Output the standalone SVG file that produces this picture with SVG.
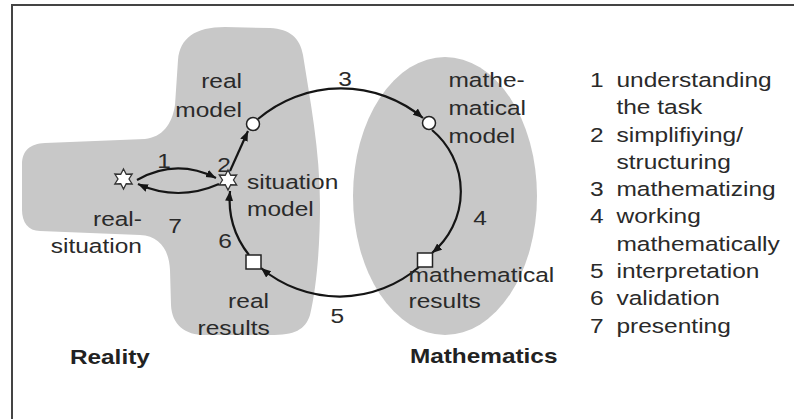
<svg xmlns="http://www.w3.org/2000/svg" width="794" height="419" viewBox="0 0 794 419">
<style>
.t{font-family:"Liberation Sans",Arial,sans-serif;font-size:19.3px;fill:#2a2a2a}
.b{font-family:"Liberation Sans",Arial,sans-serif;font-size:21px;font-weight:bold;fill:#222}
.e{text-anchor:end}
.m{text-anchor:middle}
.region{fill:#c8c8c8;stroke:none}
.conn{fill:none;stroke:#151515;stroke-width:2.2}
.node{fill:#fff;stroke:#222;stroke-width:1.5}
.star{fill:#fff;stroke:#333;stroke-width:1.3}
</style>
<defs>
<marker id="ah" markerUnits="userSpaceOnUse" markerWidth="11" markerHeight="9" refX="10" refY="4" orient="auto">
<path d="M0,0 L10,4 L0,8 z" fill="#151515"/>
</marker>
<polygon id="starshape" points="0,-10 2.75,-4.76 8.66,-5 5.5,0 8.66,5 2.75,4.76 0,10 -2.75,4.76 -8.66,5 -5.5,0 -8.66,-5 -2.75,-4.76"/>
</defs>
<rect x="0" y="0" width="794" height="419" fill="#fff"/>
<path d="M12,419 L12,5 L794,5" fill="none" stroke="#444" stroke-width="2"/>

<g id="reality">
<path class="region" d="M22,165 C22,150 30,144 45,143 L145,139 C162,137 172,125 175,105 L178,60 C180,38 195,27 225,27 L270,28 C290,29 300,38 303,55 C310,100 320,150 320,205 C320,250 316,290 310,315 C305,330 295,335 270,335 L205,335 C185,335 172,325 171,305 L170,270 C169,250 160,236 140,235 L40,231 C28,231 22,222 22,210 Z"/>
<text class="b" x="60.3" y="364" transform="scale(1.16 1)">Reality</text>
</g>
<g id="mathematics">
<ellipse class="region" cx="445" cy="196" rx="92" ry="139"/>
<text class="b" x="353.4" y="363" transform="scale(1.16 1)">Mathematics</text>
</g>

<g id="connectors">
<path class="conn" d="M137,180 Q176,158 216,178" marker-end="url(#ah)"/>
<path class="conn" d="M219,184 Q178,202 138,184" marker-end="url(#ah)"/>
<path class="conn" d="M230,171 L248,131" marker-end="url(#ah)"/>
<path class="conn" d="M258,119 A128,128 0 0 1 423,118" marker-end="url(#ah)"/>
<path class="conn" d="M432,130 A80,80 0 0 1 432,253" marker-end="url(#ah)"/>
<path class="conn" d="M419,267 A122,122 0 0 1 261,268" marker-end="url(#ah)"/>
<path class="conn" d="M249,255 A90,90 0 0 1 230,191" marker-end="url(#ah)"/>
<text class="t m" x="129.1" y="168" transform="scale(1.27 1)">1</text>
<text class="t m" x="176.4" y="172" transform="scale(1.27 1)">2</text>
<text class="t m" x="271.7" y="86" transform="scale(1.27 1)">3</text>
<text class="t m" x="378" y="225" transform="scale(1.27 1)">4</text>
<text class="t m" x="265.7" y="323" transform="scale(1.27 1)">5</text>
<text class="t m" x="177.2" y="248" transform="scale(1.27 1)">6</text>
<text class="t m" x="137.8" y="233" transform="scale(1.27 1)">7</text>
</g>

<g id="real-situation">
<use href="#starshape" class="star" x="123.5" y="179"/>
<text class="t e" x="111.8" y="226" transform="scale(1.27 1)">real-</text>
<text class="t e" x="111.8" y="253" transform="scale(1.27 1)">situation</text>
</g>
<g id="situation-model">
<use href="#starshape" class="star" x="228" y="180"/>
<text class="t" x="194.5" y="189" transform="scale(1.27 1)">situation</text>
<text class="t" x="194.5" y="216" transform="scale(1.27 1)">model</text>
</g>
<g id="real-model">
<circle class="node" cx="253" cy="124" r="6.5"/>
<text class="t e" x="190.6" y="88" transform="scale(1.27 1)">real</text>
<text class="t e" x="190.6" y="117" transform="scale(1.27 1)">model</text>
</g>
<g id="mathematical-model">
<circle class="node" cx="429" cy="123" r="6.5"/>
<text class="t" x="353.1" y="87" transform="scale(1.27 1)">mathe-</text>
<text class="t" x="353.1" y="115" transform="scale(1.27 1)">matical</text>
<text class="t" x="353.1" y="143" transform="scale(1.27 1)">model</text>
</g>
<g id="mathematical-results">
<text class="t" x="321.7" y="282" transform="scale(1.27 1)">mathematical</text>
<text class="t" x="321.7" y="308" transform="scale(1.27 1)">results</text>
<rect class="node" x="417.5" y="253" width="15" height="14"/>
</g>
<g id="real-results">
<rect class="node" x="246" y="255" width="15" height="14"/>
<text class="t e" x="211.8" y="308" transform="scale(1.27 1)">real</text>
<text class="t e" x="212.4" y="335" transform="scale(1.27 1)">results</text>
</g>

<g id="legend">
<text class="t" x="464.6" y="87" transform="scale(1.27 1)">1</text>
<text class="t" x="485.4" y="87" transform="scale(1.27 1)">understanding</text>
<text class="t" x="485.4" y="114.3" transform="scale(1.27 1)">the task</text>
<text class="t" x="464.6" y="141.6" transform="scale(1.27 1)">2</text>
<text class="t" x="485.4" y="141.6" transform="scale(1.27 1)">simplifiying/</text>
<text class="t" x="485.4" y="168.9" transform="scale(1.27 1)">structuring</text>
<text class="t" x="464.6" y="196.2" transform="scale(1.27 1)">3</text>
<text class="t" x="485.4" y="196.2" transform="scale(1.27 1)">mathematizing</text>
<text class="t" x="464.6" y="223.5" transform="scale(1.27 1)">4</text>
<text class="t" x="485.4" y="223.5" transform="scale(1.27 1)">working</text>
<text class="t" x="485.4" y="250.8" transform="scale(1.27 1)">mathematically</text>
<text class="t" x="464.6" y="278.1" transform="scale(1.27 1)">5</text>
<text class="t" x="485.4" y="278.1" transform="scale(1.27 1)">interpretation</text>
<text class="t" x="464.6" y="305.4" transform="scale(1.27 1)">6</text>
<text class="t" x="485.4" y="305.4" transform="scale(1.27 1)">validation</text>
<text class="t" x="464.6" y="332.7" transform="scale(1.27 1)">7</text>
<text class="t" x="485.4" y="332.7" transform="scale(1.27 1)">presenting</text>
</g>
</svg>
